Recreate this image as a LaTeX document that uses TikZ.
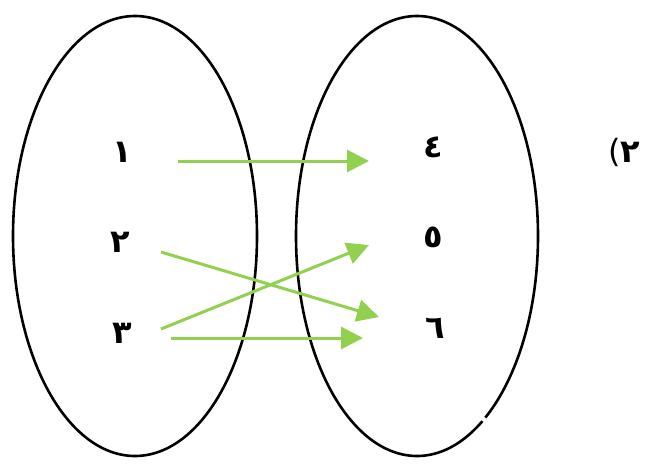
\documentclass[tikz,border=0pt]{standalone}
\usepackage{fontspec}
\newfontfamily\arabicfont[Script=Arabic]{DejaVu Sans}
\newfontfamily\latinfont{DejaVu Sans}
\usetikzlibrary{arrows.meta}
\definecolor{arrowgreen}{RGB}{146,208,80}
\tikzset{
  setellipse/.style={draw=black, line width=2.6pt},
  digit/.style={font=\arabicfont\bfseries\fontsize{32}{36}\selectfont, inner sep=0pt},
  maparrow/.style={draw=arrowgreen, line width=3pt, -{Triangle[length=22pt,width=22pt]}}
}
\begin{document}
\begin{tikzpicture}[x=1pt,y=-1pt]
\useasboundingbox (0,0) rectangle (666,469);
% sets
\draw[setellipse] (135,236) ellipse [x radius=122, y radius=220];
\draw[setellipse] (417,236) ellipse [x radius=121, y radius=220];
\fill[white] (483.5,416.5) -- (490,421) -- (487,424) -- (481,420) -- cycle;
% elements
\node[digit] (a1) at (122,152) {١};
\node[digit] (a2) at (120,242) {٢};
\node[digit] (a3) at (122,333) {٣};
\node[digit] (b4) at (433,147) {٤};
\node[digit] (b5) at (433,237) {٥};
\node[digit] (b6) at (435,328) {٦};
\node[digit] (lbl) at (624,152) {{\latinfont\mdseries(}٢};
% mappings
\draw[maparrow] ([shift={(56,9)}]a1.center) -- ([shift={(-64,14)}]b4.center);
\draw[maparrow] ([shift={(41,10)}]a2.center) -- ([shift={(-56,-11)}]b6.center);
\draw[maparrow] ([shift={(39,-4)}]a3.center) -- ([shift={(-64,8)}]b5.center);
\draw[maparrow] ([shift={(49,5)}]a3.center) -- ([shift={(-72,10)}]b6.center);
\end{tikzpicture}
\end{document}
